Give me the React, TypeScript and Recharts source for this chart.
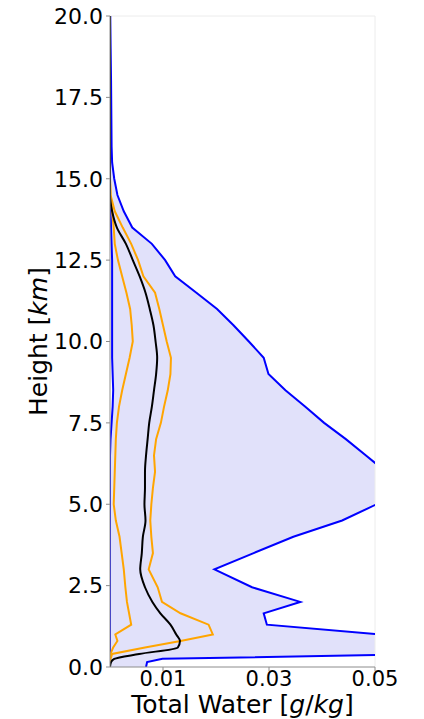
import React from 'react'
import { ComposedChart, Area, Line, XAxis, YAxis, Label, ReferenceLine } from 'recharts'

// model levels (km)
const heights = [
  0, 0.15, 0.25, 0.4, 0.6, 0.8, 1.0, 1.3, 1.65, 2.0, 2.45, 3.0, 3.5, 4.0, 4.5, 5.0, 5.5, 6.0, 6.5, 7.0, 7.5,
  8.0, 8.5, 9.0, 9.5, 10.0, 10.5, 11.0, 11.5, 12.0, 12.5, 13.0, 13.5, 14.0, 14.5, 15.0, 15.5, 16.0, 17.0,
  18.0, 19.0, 20.0,
]

// total water (g/kg) envelope
const minWater = [
  0, 0, 0, 0, 0, 0, 0, 0, 0, 0, 0, 0, 0, 0, 0, 0, 0, 0, 0, 0.0001, 0.0003,
  0.0005, 0.0006, 0.0005, 0.0004, 0.0004, 0.0004, 0.0004, 0.0004, 0.0004, 0.0004, 0.0003, 0.0002, 0.0001, 0, 0, 0, 0, 0,
  0, 0, 0,
]
const maxWater = [
  0.0068, 0.007, 0.0099, 0.062, 0.09, 0.08, 0.0512, 0.0296, 0.029, 0.0359, 0.0268, 0.0197, 0.0271, 0.0346, 0.0438, 0.0503, 0.058, 0.052, 0.0483, 0.0445, 0.0404,
  0.0368, 0.0331, 0.0299, 0.029, 0.0262, 0.0233, 0.0202, 0.0163, 0.0123, 0.0104, 0.0079, 0.0042, 0.0026, 0.0014, 0.0008, 0.0004, 0.0003, 0.00025,
  0.0002, 0.00012, 0.00005,
]

// percentiles
const lowPct = [
  0, 0, 0, 0.0001, 0.0006, 0.0014, 0.001, 0.004, 0.0036, 0.0032, 0.0029, 0.0026, 0.0022, 0.0018, 0.0011, 0.0007, 0.0008, 0.0009, 0.001, 0.0011, 0.0013,
  0.0017, 0.0023, 0.003, 0.0037, 0.0043, 0.0041, 0.0038, 0.0031, 0.0023, 0.0015, 0.0009, 0.0007, 0.0004, 0.0001, 0, 0, 0, 0,
  0, 0, 0,
]
const highPct = [
  0, 0, 0.0001, 0.0004, 0.0066, 0.0133, 0.0194, 0.0186, 0.0133, 0.0098, 0.009, 0.0073, 0.0081, 0.0078, 0.0076, 0.0078, 0.0081, 0.0085, 0.0083, 0.0087, 0.0096,
  0.0102, 0.0109, 0.0114, 0.0115, 0.0107, 0.01, 0.0093, 0.0085, 0.0063, 0.0053, 0.004, 0.0024, 0.0009, 0.0001, 0, 0, 0, 0,
  0, 0, 0,
]

// mean profile
const meanWater = [
  0, 0.0002, 0.0008, 0.0055, 0.0128, 0.0132, 0.0125, 0.0114, 0.0095, 0.008, 0.0066, 0.0057, 0.006, 0.0062, 0.0067, 0.0065, 0.0066, 0.0066, 0.0068, 0.0071, 0.0074,
  0.0079, 0.0083, 0.0087, 0.0089, 0.0086, 0.0082, 0.0075, 0.0067, 0.0056, 0.0043, 0.003, 0.0013, 0.0004, 0, 0, 0, 0, 0,
  0, 0, 0,
]

const xTicks = [0.01, 0.03, 0.05]
const yTicks = [0, 2.5, 5, 7.5, 10, 12.5, 15, 17.5, 20]

const rows = heights.map((h, i) => ({
  h,
  min: minWater[i],
  max: maxWater[i],
  low: lowPct[i],
  high: highPct[i],
  mean: meanWater[i],
}))

const FONT = 'DejaVu Sans'
const spine = '#8c8c8c'

function XLabel(props: any) {
  const { viewBox } = props
  return (
    <text x={viewBox.x + viewBox.width / 2} y={viewBox.y + 46} textAnchor="middle" fontFamily={FONT} fontSize={25} fill="#000">
      Total Water [<tspan fontStyle="italic">g</tspan>/<tspan fontStyle="italic">kg</tspan>]
    </text>
  )
}

function YLabel(props: any) {
  const { viewBox } = props
  const cx = 38
  const cy = viewBox.y + viewBox.height / 2
  return (
    <text x={cx} y={cy} transform={`rotate(-90, ${cx}, ${cy})`} textAnchor="middle" dominantBaseline="central" fontFamily={FONT} fontSize={25} fill="#000">
      Height [<tspan fontStyle="italic">km</tspan>]
    </text>
  )
}

export default function App() {
  return (
    <div style={{ width: 424, height: 719, background: '#fff' }}>
      <style>{'body{margin:0}'}</style>
      <ComposedChart width={424} height={719} layout="vertical" data={rows} margin={{ top: 16, right: 49, bottom: 0, left: 0 }}>
        <XAxis
          type="number"
          domain={[0, 0.05]}
          ticks={xTicks}
          allowDataOverflow
          height={52}
          tickSize={4}
          tickMargin={0}
          axisLine={{ stroke: spine }}
          tickLine={{ stroke: spine }}
          tick={{ fontFamily: FONT, fontSize: 21, fill: '#000' }}
        >
          <Label content={XLabel} />
        </XAxis>
        <YAxis
          type="number"
          dataKey="h"
          domain={[0, 20]}
          ticks={yTicks}
          reversed
          allowDataOverflow
          width={110}
          tickSize={4}
          tickMargin={3}
          tickFormatter={(v: number) => v.toFixed(1)}
          axisLine={{ stroke: spine }}
          tickLine={{ stroke: spine }}
          tick={{ fontFamily: FONT, fontSize: 22, fill: '#000' }}
        >
          <Label content={YLabel} />
        </YAxis>
        <ReferenceLine y={20} stroke="#ececec" />
        <ReferenceLine x={0.05} stroke="#ececec" />
        <Area
          dataKey={(d: any) => [d.min, d.max]}
          type="linear"
          stroke="none"
          fill="#e1e1fa"
          fillOpacity={1}
          isAnimationActive={false}
          activeDot={false}
        />
        <Line dataKey="min" type="linear" stroke="#0000ff" strokeWidth={2} dot={false} activeDot={false} isAnimationActive={false} />
        <Line dataKey="max" type="linear" stroke="#0000ff" strokeWidth={2} dot={false} activeDot={false} isAnimationActive={false} />
        <Line dataKey="low" type="linear" stroke="#ffa500" strokeWidth={2} dot={false} activeDot={false} isAnimationActive={false} />
        <Line dataKey="high" type="linear" stroke="#ffa500" strokeWidth={2} dot={false} activeDot={false} isAnimationActive={false} />
        <Line dataKey="mean" type="monotone" stroke="#000" strokeWidth={2} dot={false} activeDot={false} isAnimationActive={false} />
      </ComposedChart>
    </div>
  )
}
